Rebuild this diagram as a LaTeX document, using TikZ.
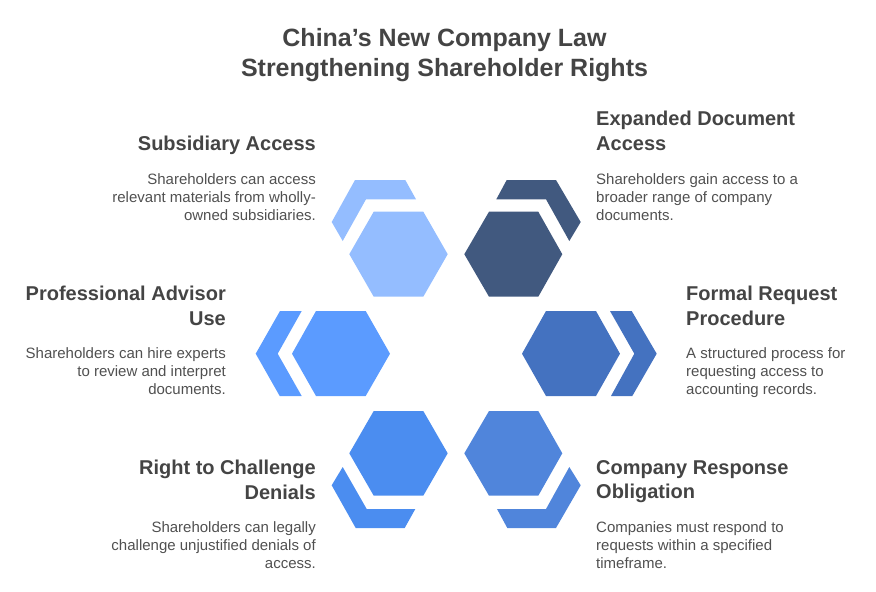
\documentclass[tikz,border=0pt]{standalone}
\usepackage{fontspec}
\setmainfont{Liberation Sans}
\definecolor{txt}{HTML}{444444}
\definecolor{bodytxt}{HTML}{505050}
\definecolor{cTL}{HTML}{94BDFF}
\definecolor{cTR}{HTML}{41597F}
\definecolor{cL}{HTML}{5B9BFF}
\definecolor{cR}{HTML}{4472C0}
\definecolor{cBL}{HTML}{4B8DF0}
\definecolor{cBR}{HTML}{5085DB}
\tikzset{
  titletext/.style={text=txt,font=\fontsize{25}{30}\selectfont\bfseries,align=center,inner sep=0pt},
  headR/.style={text=txt,font=\fontsize{20}{24.5}\selectfont\bfseries,align=left,anchor=north west,inner sep=0pt},
  headL/.style={text=txt,font=\fontsize{20}{24.5}\selectfont\bfseries,align=right,anchor=north east,inner sep=0pt},
  bodyR/.style={text=bodytxt,font=\fontsize{15}{18}\selectfont,align=left,anchor=north west,inner sep=0pt},
  bodyL/.style={text=bodytxt,font=\fontsize{15}{18}\selectfont,align=right,anchor=north east,inner sep=0pt}
}
\begin{document}
\begin{tikzpicture}[x=1pt,y=-1pt]
\useasboundingbox (0,0) rectangle (876,592);
% top left
\fill[cTL] (349.3,254.2) -- (373.7,211.7) -- (423.3,211.7) -- (447.7,254.2) -- (423.3,296.7) -- (373.7,296.7) -- cycle;
\fill[cTL] (355,180) -- (405.3,180) -- (416,199.3) -- (366,199.3) -- (342.7,241) -- (331.7,222) -- cycle;
% top right
\fill[cTR] (464.3,254.2) -- (489,211.7) -- (538.3,211.7) -- (562.3,254.2) -- (538.3,296.7) -- (489,296.7) -- cycle;
\fill[cTR] (506.7,180) -- (556,180) -- (580.7,222) -- (569.3,241) -- (546,199.3) -- (496.3,199.3) -- cycle;
% left
\fill[cL] (292,353.7) -- (316,311) -- (365.7,311) -- (390,353.7) -- (365.7,396) -- (316,396) -- cycle;
\fill[cL] (280,311) -- (301.7,311) -- (277.7,353.7) -- (301.7,396) -- (279.7,396) -- (255.7,353.7) -- cycle;
% right
\fill[cR] (522,353.7) -- (546,311) -- (596,311) -- (620,353.7) -- (596,396) -- (546,396) -- cycle;
\fill[cR] (610,311) -- (631.7,311) -- (656.7,353.7) -- (632.3,396) -- (611,396) -- (634.3,353.7) -- cycle;
% bottom left
\fill[cBL] (349.3,453.3) -- (373.7,411) -- (423.3,411) -- (447.7,453.3) -- (423.3,495.7) -- (373.7,495.7) -- cycle;
\fill[cBL] (342.7,467) -- (366.7,509) -- (415.3,509) -- (404.7,528) -- (355.7,528) -- (331.7,485.3) -- cycle;
% bottom right
\fill[cBR] (464.3,453.3) -- (489,411) -- (538.3,411) -- (562.3,453.3) -- (538.3,495.7) -- (489,495.7) -- cycle;
\fill[cBR] (569.3,467) -- (580.7,485.3) -- (556,528) -- (507.3,528) -- (497,509) -- (546,509) -- cycle;
% texts
\node[titletext] (title) at (444.5,55) {China’s New Company Law\\Strengthening Shareholder Rights};
\node[headL] (h1) at (316,136) {Subsidiary Access};
\node[bodyL] (b1) at (316,173.5) {Shareholders can access\\relevant materials from wholly-\\owned subsidiaries.};
\node[headR] (h2) at (596,111) {Expanded Document\\Access};
\node[bodyR] (b2) at (596,173.5) {Shareholders gain access to a\\broader range of company\\documents.};
\node[headL] (h3) at (226,286) {Professional Advisor\\Use};
\node[bodyL] (b3) at (226,347.5) {Shareholders can hire experts\\to review and interpret\\documents.};
\node[headR] (h4) at (686,286) {Formal Request\\Procedure};
\node[bodyR] (b4) at (686,347.5) {A structured process for\\requesting access to\\accounting records.};
\node[headL] (h5) at (316,460) {Right to Challenge\\Denials};
\node[bodyL] (b5) at (316,521.5) {Shareholders can legally\\challenge unjustified denials of\\access.};
\node[headR] (h6) at (596,460) {Company Response\\Obligation};
\node[bodyR] (b6) at (596,521.5) {Companies must respond to\\requests within a specified\\timeframe.};
\end{tikzpicture}
\end{document}
